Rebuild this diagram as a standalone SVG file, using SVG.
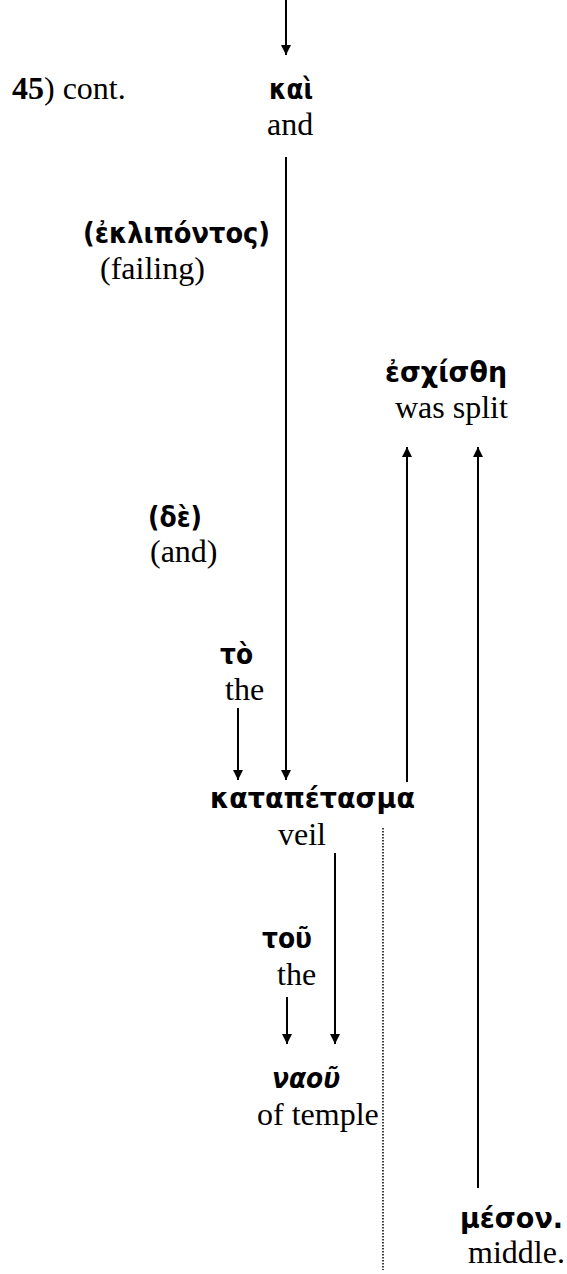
<svg xmlns="http://www.w3.org/2000/svg" width="567" height="1274" viewBox="0 0 567 1274">
<style>
.gk{font-family:"DejaVu Sans","Noto Sans",sans-serif;font-weight:bold;font-size:28px;fill:#000}
.en{font-family:"Liberation Serif","Times New Roman",serif;font-size:32px;fill:#000}
.ln{stroke:#000;stroke-width:2;fill:none}
.dot{stroke:#000;stroke-width:1.5;stroke-dasharray:1.5 1.5;fill:none}
</style>
<defs>
<marker id="ah" viewBox="0 0 10 10" refX="10" refY="5" markerWidth="10" markerHeight="10" markerUnits="userSpaceOnUse" orient="auto">
<path d="M0,0 L10,5 L0,10 Z" fill="#000"/>
</marker>
</defs>
<g id="connectors">
<line class="ln" x1="286" y1="0" x2="286" y2="55" marker-end="url(#ah)"/>
<line class="ln" x1="286" y1="157" x2="286" y2="780" marker-end="url(#ah)"/>
<line class="ln" x1="238" y1="708" x2="238" y2="780" marker-end="url(#ah)"/>
<line class="ln" x1="407" y1="782" x2="407" y2="447" marker-end="url(#ah)"/>
<line class="ln" x1="478" y1="1188" x2="478" y2="447" marker-end="url(#ah)"/>
<line class="ln" x1="335" y1="853" x2="335" y2="1044" marker-end="url(#ah)"/>
<line class="ln" x1="287" y1="997" x2="287" y2="1044" marker-end="url(#ah)"/>
<line class="dot" x1="383" y1="828" x2="383" y2="1270"/>
</g>
<g id="label-45">
<text class="en" x="12" y="99"><tspan font-weight="bold">45</tspan>) cont.</text>
</g>
<g id="node-kai">
<text class="gk" x="269" y="99" textLength="44" lengthAdjust="spacingAndGlyphs">καὶ</text>
<text class="en" x="267" y="135">and</text>
</g>
<g id="node-eklipontos">
<text class="gk" x="83" y="243" textLength="187" lengthAdjust="spacingAndGlyphs">(ἐκλιπόντος)</text>
<text class="en" x="100" y="279">(failing)</text>
</g>
<g id="node-eschisthe">
<text class="gk" x="385" y="382" textLength="122" lengthAdjust="spacingAndGlyphs">ἐσχίσθη</text>
<text class="en" x="395" y="418">was split</text>
</g>
<g id="node-de">
<text class="gk" x="148" y="527" textLength="54" lengthAdjust="spacingAndGlyphs">(δὲ)</text>
<text class="en" x="150" y="562">(and)</text>
</g>
<g id="node-to">
<text class="gk" x="220" y="664" textLength="33" lengthAdjust="spacingAndGlyphs">τὸ</text>
<text class="en" x="225" y="700">the</text>
</g>
<g id="node-katapetasma">
<text class="gk" x="210" y="808" textLength="205" lengthAdjust="spacingAndGlyphs">καταπέτασμα</text>
<text class="en" x="278" y="845">veil</text>
</g>
<g id="node-tou">
<text class="gk" x="262" y="948" textLength="50" lengthAdjust="spacingAndGlyphs">τοῦ</text>
<text class="en" x="277" y="985">the</text>
</g>
<g id="node-naou">
<text class="gk" x="272" y="1088" textLength="68" lengthAdjust="spacingAndGlyphs" font-style="italic">ναοῦ</text>
<text class="en" x="257" y="1125">of temple</text>
</g>
<g id="node-meson">
<text class="gk" x="460" y="1228" textLength="103" lengthAdjust="spacingAndGlyphs">μέσον.</text>
<text class="en" x="468" y="1263">middle.</text>
</g>
</svg>
